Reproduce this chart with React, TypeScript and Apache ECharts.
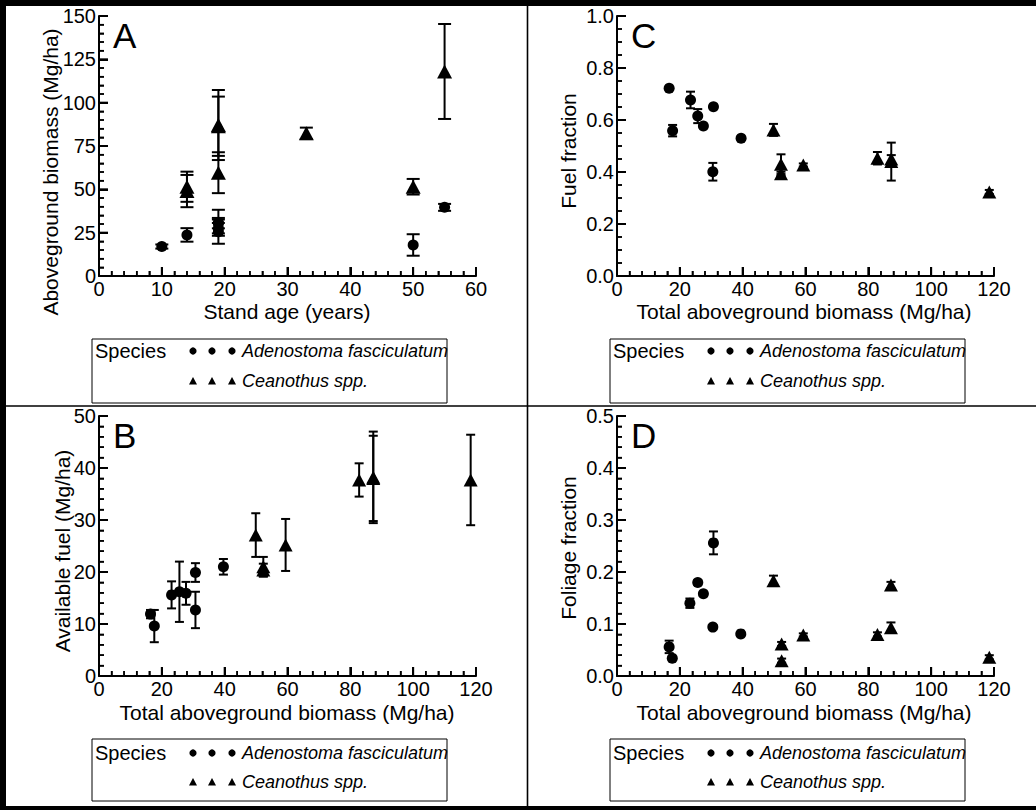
import { useEffect, useRef } from "react";
import * as echarts from "echarts";

const FONT = "'Liberation Sans', Arial, Helvetica, sans-serif";

// ---------- Panel A: stand age vs aboveground biomass ----------
const aAdenAge = [10, 14, 19, 19, 19, 19, 50, 55];
const aAdenBio = [17.0, 23.7, 25.6, 27.6, 30.7, 30.5, 17.9, 39.6];
const aAdenErr = [1.2, 3.9, 7.0, 3.0, 7.5, 3.0, 6.2, 2.0];
const aCeanAge = [14, 14, 19, 19, 19, 33, 50, 55];
const aCeanBio = [49.0, 51.5, 59.6, 87.1, 86.4, 82.3, 51.5, 118.0];
const aCeanErr = [9.3, 8.7, 11.8, 20.2, 17.1, 3.3, 4.5, 27.4];

// ---------- Panel B: total biomass vs available fuel ----------
const bAdenX = [16.4, 17.6, 23.1, 25.6, 27.7, 30.7, 30.7, 39.6];
const bAdenY = [11.9, 9.6, 15.6, 16.2, 15.9, 19.9, 12.7, 21.0];
const bAdenErr = [0.8, 3.1, 2.6, 5.8, 2.2, 1.8, 3.5, 1.5];
const bCeanX = [49.9, 52.3, 52.3, 59.4, 82.8, 87.3, 87.3, 118.3];
const bCeanY = [27.1, 21.0, 20.4, 25.2, 37.7, 38.2, 38.0, 37.7];
const bCeanErr = [4.2, 1.9, 1.2, 5.0, 3.2, 8.8, 8.2, 8.7];

// ---------- Panel C: total biomass vs fuel fraction ----------
const cAdenX = [16.6, 17.7, 23.4, 25.7, 27.5, 30.7, 30.5, 39.5];
const cAdenY = [0.722, 0.559, 0.677, 0.615, 0.577, 0.651, 0.401, 0.53];
const cAdenErr = [0.005, 0.022, 0.032, 0.027, 0.008, 0.008, 0.034, 0.006];
const cCeanX = [49.8, 52.2, 52.2, 59.3, 82.9, 87.3, 87.3, 118.5];
const cCeanY = [0.562, 0.43, 0.393, 0.427, 0.453, 0.44, 0.45, 0.323];
const cCeanErr = [0.023, 0.038, 0.008, 0.006, 0.024, 0.073, 0.015, 0.008];

// ---------- Panel D: total biomass vs foliage fraction ----------
const dAdenX = [16.6, 17.6, 23.2, 25.7, 27.5, 30.7, 30.5, 39.4];
const dAdenY = [0.056, 0.034, 0.14, 0.18, 0.158, 0.256, 0.094, 0.081];
const dAdenErr = [0.012, 0.003, 0.009, 0.004, 0.004, 0.022, 0.004, 0.003];
const dCeanX = [49.8, 52.4, 52.4, 59.3, 82.9, 87.2, 87.2, 118.5];
const dCeanY = [0.183, 0.0615, 0.0295, 0.079, 0.08, 0.175, 0.093, 0.036];
const dCeanErr = [0.01, 0.004, 0.004, 0.003, 0.004, 0.006, 0.01, 0.004];

// ---------- texts ----------
const panelLetters = ["A", "B", "C", "D"];
const xTitles = [
  "Stand age (years)",
  "Total aboveground biomass (Mg/ha)",
  "Total aboveground biomass (Mg/ha)",
  "Total aboveground biomass (Mg/ha)",
];
const yTitles = [
  "Aboveground biomass (Mg/ha)",
  "Available fuel (Mg/ha)",
  "Fuel fraction",
  "Foliage fraction",
];
const legendTitle = "Species";
const speciesNames = ["Adenostoma fasciculatum", "Ceanothus spp."];

// axis ranges (A, B, C, D)
const xMaxes = [60, 120, 120, 120];
const xIntervals = [10, 20, 20, 20];
const xMinorSplits = [5, 5, 5, 5];
const yMaxes = [150, 50, 1.0, 0.5];
const yIntervals = [25, 10, 0.2, 0.1];
const yMinorSplits = [5, 5, 4, 5];
const yDecimals = [0, 0, 1, 1];

// layout (A, B, C, D)
const gridLefts = [99, 99, 617, 617];
const gridTops = [16, 416, 16, 416];
const GRID_W = 377;
const GRID_H = 260;

const zip = (xs: number[], ys: number[], es?: number[]) =>
  xs.map((x, i) => (es ? [x, ys[i], es[i]] : [x, ys[i]]));

const panelData = [
  { ax: aAdenAge, ay: aAdenBio, ae: aAdenErr, cx: aCeanAge, cy: aCeanBio, ce: aCeanErr },
  { ax: bAdenX, ay: bAdenY, ae: bAdenErr, cx: bCeanX, cy: bCeanY, ce: bCeanErr },
  { ax: cAdenX, ay: cAdenY, ae: cAdenErr, cx: cCeanX, cy: cCeanY, ce: cCeanErr },
  { ax: dAdenX, ay: dAdenY, ae: dAdenErr, cx: dCeanX, cy: dCeanY, ce: dCeanErr },
];

function errRender(capHalf: number) {
  return (params: any, api: any) => {
    const x = api.value(0);
    const y = api.value(1);
    const e = api.value(2);
    const top = api.coord([x, y + e]);
    const bot = api.coord([x, y - e]);
    const style = { stroke: "#000", lineWidth: 2 };
    return {
      type: "group",
      children: [
        { type: "line", shape: { x1: top[0], y1: top[1], x2: bot[0], y2: bot[1] }, style },
        { type: "line", shape: { x1: top[0] - capHalf, y1: top[1], x2: top[0] + capHalf, y2: top[1] }, style },
        { type: "line", shape: { x1: bot[0] - capHalf, y1: bot[1], x2: bot[0] + capHalf, y2: bot[1] }, style },
      ],
    };
  };
}

// inward axis ticks (major + minor), positioned through the axis scales
function tickRender(i: number) {
  return (params: any, api: any) => {
    const children: any[] = [];
    const xn = Math.round((xMaxes[i] / xIntervals[i]) * xMinorSplits[i]);
    for (let k = 0; k <= xn; k++) {
      const v = (k * xIntervals[i]) / xMinorSplits[i];
      const p = api.coord([v, 0]);
      const len = k % xMinorSplits[i] === 0 ? 9 : 5;
      children.push({
        type: "line",
        shape: { x1: p[0], y1: p[1], x2: p[0], y2: p[1] - len },
        style: { stroke: "#000", lineWidth: k % xMinorSplits[i] === 0 ? 2 : 1.5 },
      });
    }
    const yn = Math.round((yMaxes[i] / yIntervals[i]) * yMinorSplits[i]);
    for (let k = 0; k <= yn; k++) {
      const v = (k * yIntervals[i]) / yMinorSplits[i];
      const p = api.coord([0, v]);
      const len = k % yMinorSplits[i] === 0 ? 9 : 5;
      children.push({
        type: "line",
        shape: { x1: p[0], y1: p[1], x2: p[0] + len, y2: p[1] },
        style: { stroke: "#000", lineWidth: k % yMinorSplits[i] === 0 ? 2 : 1.5 },
      });
    }
    return { type: "group", children };
  };
}

function valueAxis(gridIndex: number, max: number, interval: number, minorSplit: number, decimals: number) {
  return {
    gridIndex,
    type: "value",
    min: 0,
    max,
    interval,
    axisLine: { show: true, lineStyle: { color: "#000", width: 2 } },
    axisTick: { show: true, inside: true, length: 9, lineStyle: { color: "#000", width: 2 } },
    minorTick: { show: true, splitNumber: minorSplit, length: 5, lineStyle: { color: "#000", width: 1.5 } },
    splitLine: { show: false },
    axisLabel: {
      color: "#000",
      fontSize: 20,
      fontFamily: FONT,
      margin: 3,
      formatter: (v: number) => v.toFixed(decimals),
    },
  };
}

function legendGraphics(left: number, top: number, h: number, row1: number, row2: number) {
  const els: any[] = [];
  els.push({
    type: "rect",
    shape: { x: left, y: top, width: 355, height: h },
    style: { fill: "#fff", stroke: "#000", lineWidth: 1 },
    z: 10,
  });
  els.push({
    type: "text",
    x: left + 3,
    y: row1,
    style: { text: legendTitle, fill: "#000", fontSize: 20, fontFamily: FONT, align: "left", verticalAlign: "middle" },
    z: 11,
  });
  const sx = [101, 120, 140];
  sx.forEach((dx) => {
    els.push({ type: "circle", shape: { cx: left + dx, cy: row1, r: 3.6 }, style: { fill: "#000" }, z: 11 });
    const cx = left + dx;
    els.push({
      type: "polygon",
      shape: { points: [[cx, row2 - 4], [cx + 4, row2 + 3.5], [cx - 4, row2 + 3.5]] },
      style: { fill: "#000" },
      z: 11,
    });
  });
  [row1, row2].forEach((ry, k) => {
    els.push({
      type: "text",
      x: left + 150,
      y: ry,
      style: {
        text: speciesNames[k],
        fill: "#000",
        fontSize: 18,
        fontStyle: "italic",
        fontFamily: FONT,
        align: "left",
        verticalAlign: "middle",
      },
      z: 11,
    });
  });
  return els;
}

export default function App() {
  const ref = useRef<HTMLDivElement>(null);

  useEffect(() => {
    if (!ref.current) return;
    const chart = echarts.init(ref.current, undefined, { renderer: "svg" });

    const grids = gridLefts.map((l, i) => ({
      left: l,
      top: gridTops[i],
      width: GRID_W,
      height: GRID_H,
      outerBoundsMode: "none",
    }));

    const xAxes = [0, 1, 2, 3].map((i) => valueAxis(i, xMaxes[i], xIntervals[i], xMinorSplits[i], 0));
    const yAxes = [0, 1, 2, 3].map((i) =>
      valueAxis(i, yMaxes[i], yIntervals[i], yMinorSplits[i], yDecimals[i])
    );

    const series: any[] = [];
    panelData.forEach((p, i) => {
      const cap = i === 0 ? 6.5 : 4.5;
      const circleSize = 11;
      const triSize = i === 0 ? [15, 14] : [14, 13];
      series.push({
        type: "custom",
        xAxisIndex: i,
        yAxisIndex: i,
        renderItem: tickRender(i),
        data: [[0, 0]],
        encode: { x: 0, y: 1 },
        silent: true,
        z: 4,
      });
      series.push({
        type: "custom",
        xAxisIndex: i,
        yAxisIndex: i,
        renderItem: errRender(cap),
        data: zip(p.ax, p.ay, p.ae),
        encode: { x: 0, y: 1 },
        silent: true,
        z: 2,
      });
      series.push({
        type: "custom",
        xAxisIndex: i,
        yAxisIndex: i,
        renderItem: errRender(cap),
        data: zip(p.cx, p.cy, p.ce),
        encode: { x: 0, y: 1 },
        silent: true,
        z: 2,
      });
      series.push({
        type: "scatter",
        xAxisIndex: i,
        yAxisIndex: i,
        symbol: "circle",
        symbolSize: circleSize,
        itemStyle: { color: "#000", opacity: 1 },
        data: zip(p.ax, p.ay),
        silent: true,
        z: 3,
      });
      series.push({
        type: "scatter",
        xAxisIndex: i,
        yAxisIndex: i,
        symbol: "triangle",
        symbolSize: triSize,
        itemStyle: { color: "#000", opacity: 1 },
        data: zip(p.cx, p.cy),
        silent: true,
        z: 3,
      });
    });

    const letterPos = [
      [113, 35],
      [113, 435],
      [631, 35],
      [631, 435],
    ];
    const xTitlePos = [
      [287, 311],
      [287, 712],
      [804, 311],
      [804, 712],
    ];
    const yTitlePos = [
      [50, 172],
      [62, 551],
      [568, 151],
      [568, 548],
    ];

    const graphics: any[] = [];
    graphics.push({ type: "rect", shape: { x: 0, y: 0, width: 6, height: 810 }, style: { fill: "#000" } });
    graphics.push({ type: "rect", shape: { x: 0, y: 0, width: 1036, height: 6 }, style: { fill: "#000" } });
    graphics.push({ type: "rect", shape: { x: 0, y: 806, width: 1036, height: 4 }, style: { fill: "#000" } });
    graphics.push({
      type: "line",
      shape: { x1: 527.5, y1: 0, x2: 527.5, y2: 810 },
      style: { stroke: "#000", lineWidth: 1.6 },
    });
    graphics.push({
      type: "line",
      shape: { x1: 0, y1: 406, x2: 1036, y2: 406 },
      style: { stroke: "#000", lineWidth: 1.6 },
    });

    for (let i = 0; i < 4; i++) {
      graphics.push({
        type: "text",
        x: letterPos[i][0],
        y: letterPos[i][1],
        style: {
          text: panelLetters[i],
          fill: "#000",
          fontSize: 35,
          fontFamily: FONT,
          align: "left",
          verticalAlign: "middle",
        },
        z: 5,
      });
      graphics.push({
        type: "text",
        x: xTitlePos[i][0],
        y: xTitlePos[i][1],
        style: {
          text: xTitles[i],
          fill: "#000",
          fontSize: 21,
          fontFamily: FONT,
          align: "center",
          verticalAlign: "middle",
        },
        z: 5,
      });
      graphics.push({
        type: "text",
        x: yTitlePos[i][0],
        y: yTitlePos[i][1],
        rotation: Math.PI / 2,
        style: {
          text: yTitles[i],
          fill: "#000",
          fontSize: 21,
          fontFamily: FONT,
          align: "center",
          verticalAlign: "middle",
        },
        z: 5,
      });
    }

    graphics.push(...legendGraphics(92, 339, 64, 351, 381));
    graphics.push(...legendGraphics(610, 339, 64, 351, 381));
    graphics.push(...legendGraphics(92, 739, 62, 753, 782));
    graphics.push(...legendGraphics(610, 739, 62, 753, 782));

    chart.setOption({
      animation: false,
      backgroundColor: "#fff",
      grid: grids,
      xAxis: xAxes,
      yAxis: yAxes,
      series,
      graphic: { elements: graphics },
    });

    return () => chart.dispose();
  }, []);

  return (
    <div
      ref={ref}
      style={{ position: "fixed", left: 0, top: 0, width: 1036, height: 810, background: "#fff" }}
    />
  );
}
